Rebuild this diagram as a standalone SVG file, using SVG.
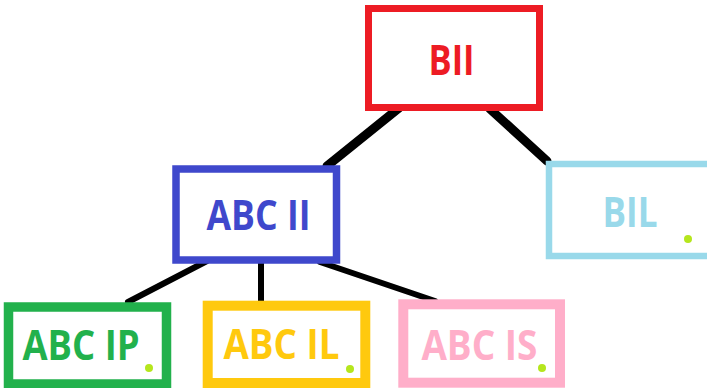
<svg xmlns="http://www.w3.org/2000/svg" width="707" height="388" viewBox="0 0 707 388">
<style>
.box{fill:#fff}
.lbl{font-family:"Open Sans","Noto Sans","Liberation Sans",sans-serif;font-weight:bold;font-size:41px;text-anchor:middle}
.dot{fill:#b5e61d}
.edge{stroke:#000;stroke-linecap:round;fill:none}
</style>
<rect width="707" height="388" fill="#fff"/>
<g id="connectors">
<line class="edge" x1="399" y1="108" x2="327" y2="166" stroke-width="9"/>
<line class="edge" x1="490" y1="109" x2="547" y2="161" stroke-width="9"/>
<line class="edge" x1="207" y1="261" x2="128" y2="302" stroke-width="6"/>
<line class="edge" x1="261" y1="258" x2="261" y2="305" stroke-width="6"/>
<line class="edge" x1="320" y1="262" x2="435" y2="301" stroke-width="6"/>
</g>
<g id="BII">
<rect class="box" x="368.5" y="8.5" width="171" height="99" stroke="#ed1c24" stroke-width="7"/>
<text class="lbl" x="451.5" y="75" fill="#ed1c24" textLength="46" lengthAdjust="spacingAndGlyphs">BII</text>
</g>
<g id="ABC_II">
<rect class="box" x="176" y="169" width="160.5" height="91" stroke="#3f48cc" stroke-width="7.5"/>
<text class="lbl" x="258.5" y="230" fill="#3f48cc" textLength="104" lengthAdjust="spacingAndGlyphs">ABC II</text>
</g>
<g id="BIL">
<rect class="box" x="549" y="164" width="170" height="92" stroke="#99d9ea" stroke-width="6.5"/>
<text class="lbl" x="630" y="227" fill="#99d9ea" textLength="55" lengthAdjust="spacingAndGlyphs">BIL</text>
<circle class="dot" cx="688" cy="239" r="4"/>
</g>
<g id="ABC_IP">
<rect class="box" x="8.5" y="307" width="158" height="77" stroke="#22b14c" stroke-width="9.5"/>
<text class="lbl" x="81" y="360" fill="#22b14c" textLength="117" lengthAdjust="spacingAndGlyphs">ABC IP</text>
<circle class="dot" cx="149" cy="368" r="4"/>
</g>
<g id="ABC_IL">
<rect class="box" x="207.7" y="305.7" width="157.6" height="77.3" stroke="#ffc90e" stroke-width="10"/>
<text class="lbl" x="281.5" y="359" fill="#ffc90e" textLength="116" lengthAdjust="spacingAndGlyphs">ABC IL</text>
<circle class="dot" cx="350" cy="369" r="4"/>
</g>
<g id="ABC_IS">
<rect class="box" x="403.3" y="304.3" width="156.7" height="78.4" stroke="#ffaec9" stroke-width="10"/>
<text class="lbl" x="479.4" y="360" fill="#ffaec9" textLength="116" lengthAdjust="spacingAndGlyphs">ABC IS</text>
<circle class="dot" cx="542" cy="368" r="4"/>
</g>
</svg>
